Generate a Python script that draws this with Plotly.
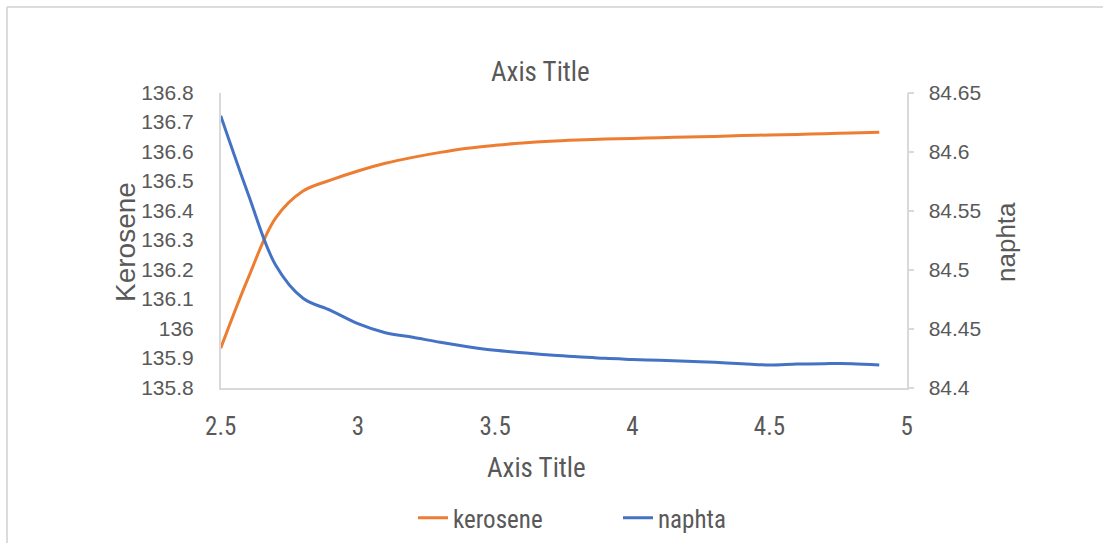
import plotly.graph_objects as go

# Reflux ratio samples and the two product temperatures
ratio = [2.5, 2.6, 2.7, 2.8, 2.9, 3.0, 3.1, 3.2, 3.3, 3.4, 3.5, 3.6, 3.7,
         3.8, 3.9, 4.0, 4.1, 4.2, 4.3, 4.4, 4.5, 4.6, 4.7, 4.8, 4.9]
kerosene = [135.933, 136.171, 136.374, 136.466, 136.503, 136.534, 136.560,
            136.580, 136.597, 136.611, 136.621, 136.629, 136.635, 136.639,
            136.642, 136.644, 136.647, 136.649, 136.651, 136.654, 136.656,
            136.658, 136.660, 136.663, 136.665]
naphta = [84.6303, 84.5640, 84.5038, 84.4756, 84.4654, 84.4541, 84.4464,
          84.4425, 84.4383, 84.4346, 84.4315, 84.4295, 84.4275, 84.4261,
          84.4247, 84.4238, 84.4230, 84.4222, 84.4213, 84.4202, 84.4191,
          84.4199, 84.4202, 84.4202, 84.4191]

x_ticks = [2.5, 3, 3.5, 4, 4.5, 5]
x_labels = ["2.5", "3", "3.5", "4", "4.5", "5"]
left_ticks = [135.8, 135.9, 136.0, 136.1, 136.2, 136.3, 136.4, 136.5,
              136.6, 136.7, 136.8]
left_labels = ["135.8", "135.9", "136", "136.1", "136.2", "136.3", "136.4",
               "136.5", "136.6", "136.7", "136.8"]
right_ticks = [84.4, 84.45, 84.5, 84.55, 84.6, 84.65]
right_labels = ["84.4", "84.45", "84.5", "84.55", "84.6", "84.65"]

W, H = 1103, 543
GREY = "#595959"
AXIS = "#D9D9D9"
WIDE = "Liberation Sans, Arial, sans-serif"
NARROW = "Liberation Sans Narrow, Arial Narrow, Roboto Condensed, sans-serif"


def px(x):
    return x / W


def py(y):
    return 1 - y / H


fig = go.Figure()
fig.add_trace(go.Scatter(
    x=ratio, y=kerosene, name="kerosene", mode="lines",
    line=dict(color="#ED7D31", width=3, shape="spline", smoothing=1.0),
))
fig.add_trace(go.Scatter(
    x=ratio, y=naphta, name="naphta", mode="lines", yaxis="y2",
    line=dict(color="#4472C4", width=3, shape="spline", smoothing=1.0),
))

fig.update_layout(
    width=W, height=H, autosize=False,
    margin=dict(l=0, r=0, t=0, b=0, pad=0, autoexpand=False),
    paper_bgcolor="white", plot_bgcolor="white",
    showlegend=True,
    legend=dict(
        orientation="h", x=px(413), xanchor="left", y=py(518), yanchor="middle",
        font=dict(family=NARROW, size=25, color=GREY),
        entrywidth=160, entrywidthmode="pixels", itemwidth=30,
        bgcolor="rgba(0,0,0,0)",
    ),
    xaxis=dict(
        domain=[px(220.7), px(906.7)], range=[2.5, 5],
        tickvals=x_ticks, ticktext=x_labels,
        showline=True, linecolor=AXIS, linewidth=1.5,
        showgrid=False, zeroline=False, ticks="", automargin=False,
        ticklabelstandoff=16,
        tickfont=dict(family=NARROW, size=25, color=GREY),
        anchor="y",
    ),
    yaxis=dict(
        domain=[py(387.5), py(92.5)], range=[135.8, 136.8],
        tickvals=left_ticks, ticktext=left_labels,
        showline=True, linecolor=AXIS, linewidth=1.5,
        showgrid=False, zeroline=False, ticks="", automargin=False,
        ticklabelstandoff=21,
        tickfont=dict(family=WIDE, size=21, color=GREY),
    ),
    yaxis2=dict(
        domain=[py(387.5), py(92.5)], range=[84.4, 84.65],
        overlaying="y", side="right", anchor="x", automargin=False,
        tickvals=right_ticks, ticktext=right_labels,
        showline=True, linecolor=AXIS, linewidth=1.5,
        showgrid=False, zeroline=False,
        ticks="outside", ticklen=6, tickcolor=AXIS, tickwidth=1.5,
        ticklabelstandoff=10,
        tickfont=dict(family=WIDE, size=21, color=GREY),
    ),
)

annotations = [
    dict(text="Axis Title", x=px(540), y=py(72),
         font=dict(family=NARROW, size=27, color=GREY)),
    dict(text="Axis Title", x=px(536), y=py(468),
         font=dict(family=NARROW, size=27, color=GREY)),
    dict(text="Kerosene", x=px(126), y=py(242), textangle=-90,
         font=dict(family=WIDE, size=28, color=GREY)),
    dict(text="naphta", x=px(1006), y=py(242), textangle=-90,
         font=dict(family=WIDE, size=26, color=GREY)),
]
for a in annotations:
    fig.add_annotation(xref="paper", yref="paper", showarrow=False,
                       xanchor="center", yanchor="middle", **a)

# Chart-area frame: only the left and top edges are visible
fig.add_shape(type="line", xref="paper", yref="paper",
              x0=px(7), x1=px(7), y0=0, y1=py(7),
              line=dict(color="#D0D0D0", width=1.5))
fig.add_shape(type="line", xref="paper", yref="paper",
              x0=px(7), x1=1, y0=py(7), y1=py(7),
              line=dict(color="#D0D0D0", width=1.5))

fig.write_html("out.html")
